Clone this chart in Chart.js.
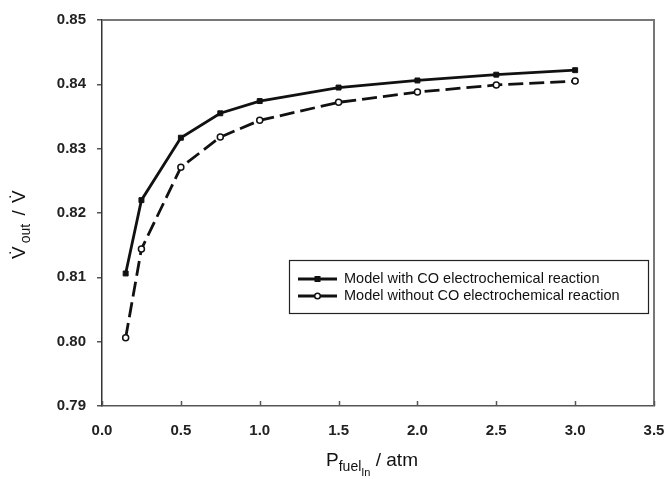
<!DOCTYPE html>
<html>
<head>
<meta charset="utf-8">
<script src="https://cdn.jsdelivr.net/npm/chart.js@4.4.1/dist/chart.umd.min.js"></script>
<style>
  html, body { margin: 0; padding: 0; background: #fff; }
  #wrap { width: 667px; height: 479px; position: relative; }
</style>
</head>
<body>
<div id="wrap"><canvas id="c" width="667" height="479"></canvas></div>
<script>
// Inlet fuel pressure (atm)
const pressure = [0.15, 0.25, 0.5, 0.75, 1.0, 1.5, 2.0, 2.5, 3.0];
// Output voltage (V) for the two model variants
const vWithCO = [0.8106, 0.8220, 0.8317, 0.8355, 0.8374, 0.8395, 0.8406, 0.8415, 0.8422];
const vWithoutCO = [0.8006, 0.8144, 0.8271, 0.8318, 0.8344, 0.8372, 0.8388, 0.8399, 0.8405];
const seriesLabels = ['Model with CO electrochemical reaction', 'Model without CO electrochemical reaction'];
const xTicks = [0, 0.5, 1.0, 1.5, 2.0, 2.5, 3.0, 3.5];

const toPoints = (xs, ys) => xs.map((x, i) => ({ x: x, y: ys[i] }));
const FONT = '"Liberation Sans", Arial, sans-serif';

// Frame, inward x ticks, axis titles and legend box
const decorations = {
  id: 'decorations',
  afterDraw(chart) {
    const ctx = chart.ctx;
    const a = chart.chartArea;
    const xs = chart.scales.x;
    ctx.save();

    // top and right frame
    ctx.strokeStyle = '#777';
    ctx.lineWidth = 2;
    ctx.beginPath();
    ctx.moveTo(a.left, a.top);
    ctx.lineTo(a.right, a.top);
    ctx.lineTo(a.right, a.bottom);
    ctx.stroke();

    // x ticks pointing into the plot
    ctx.strokeStyle = '#555';
    ctx.lineWidth = 1.5;
    xTicks.forEach(v => {
      const px = Math.round(xs.getPixelForValue(v)) + 0.5;
      ctx.beginPath();
      ctx.moveTo(px, a.bottom);
      ctx.lineTo(px, a.bottom - 5);
      ctx.stroke();
    });

    // x axis title: P_fuel_In / atm
    ctx.fillStyle = '#111';
    ctx.textBaseline = 'alphabetic';
    ctx.textAlign = 'left';
    const parts = [
      { t: 'P', f: '19px ' + FONT, dy: 0 },
      { t: 'fuel', f: '14px ' + FONT, dy: 5 },
      { t: 'In', f: '11px ' + FONT, dy: 10 },
      { t: ' / atm', f: '19px ' + FONT, dy: 0 }
    ];
    let total = 0;
    parts.forEach(p => { ctx.font = p.f; p.w = ctx.measureText(p.t).width; total += p.w; });
    let x0 = 372 - total / 2;
    const base = 466;
    parts.forEach(p => { ctx.font = p.f; ctx.fillText(p.t, x0, base + p.dy); x0 += p.w; });

    // y axis title: V̇_out / V̇ (rotated, read bottom to top)
    ctx.save();
    ctx.translate(25, 259);
    ctx.rotate(-Math.PI / 2);
    const yparts = [
      { t: 'V\u0307', f: '19px ' + FONT, dy: 0, gap: 3 },
      { t: 'out', f: '14px ' + FONT, dy: 5, gap: 3 },
      { t: ' / ', f: '19px ' + FONT, dy: 0, gap: 2 },
      { t: 'V\u0307', f: '19px ' + FONT, dy: 0, gap: 0 }
    ];
    let y0 = 0;
    yparts.forEach(p => {
      ctx.font = p.f;
      ctx.fillText(p.t, y0, p.dy);
      y0 += ctx.measureText(p.t).width + p.gap;
    });
    ctx.restore();

    // legend box
    const bx = 289, by = 260, bw = 359, bh = 53;
    ctx.fillStyle = '#fff';
    ctx.fillRect(bx, by, bw, bh);
    ctx.strokeStyle = '#222';
    ctx.lineWidth = 1.2;
    ctx.strokeRect(bx + 0.5, by + 0.5, bw, bh);
    const rows = [279, 296];
    chart.data.datasets.forEach((ds, i) => {
      const ry = rows[i];
      ctx.strokeStyle = ds.borderColor;
      ctx.lineWidth = 2.8;
      ctx.setLineDash([]);
      ctx.beginPath();
      ctx.moveTo(298, ry);
      ctx.lineTo(337, ry);
      ctx.stroke();
      const mx = 317.5;
      if (ds.pointStyle === 'rect') {
        ctx.fillStyle = ds.pointBackgroundColor;
        ctx.fillRect(mx - 3, ry - 3, 6, 6);
      } else {
        ctx.fillStyle = '#fff';
        ctx.lineWidth = 1.5;
        ctx.beginPath();
        ctx.arc(mx, ry, 2.8, 0, Math.PI * 2);
        ctx.fill();
        ctx.stroke();
      }
      ctx.fillStyle = '#111';
      ctx.font = '14.5px ' + FONT;
      ctx.textBaseline = 'middle';
      ctx.fillText(ds.label, 344, ry);
    });

    ctx.restore();
  }
};

new Chart(document.getElementById('c'), {
  type: 'line',
  data: {
    datasets: [
      {
        label: seriesLabels[0],
        data: toPoints(pressure, vWithCO),
        borderColor: '#111',
        borderWidth: 2.8,
        pointStyle: 'rect',
        pointRadius: 3.5,
        pointBackgroundColor: '#111',
        pointBorderColor: '#111',
        pointBorderWidth: 1,
        tension: 0
      },
      {
        label: seriesLabels[1],
        data: toPoints(pressure, vWithoutCO),
        borderColor: '#111',
        borderWidth: 2.8,
        borderDash: [15, 6],
        pointStyle: 'circle',
        pointRadius: 3,
        pointBackgroundColor: '#fff',
        pointBorderColor: '#111',
        pointBorderWidth: 1.5,
        tension: 0
      }
    ]
  },
  options: {
    responsive: false,
    animation: false,
    layout: { padding: { top: 20, right: 13, left: 0, bottom: 0 } },
    plugins: {
      legend: { display: false },
      tooltip: { enabled: false }
    },
    scales: {
      x: {
        type: 'linear',
        min: 0,
        max: 3.5,
        afterBuildTicks(scale) { scale.ticks = xTicks.map(v => ({ value: v })); },
        afterFit(scale) {
          scale.height = 73;
          scale.paddingLeft = 0;
          scale.paddingRight = 0;
        },
        grid: { display: false, drawTicks: false },
        border: { display: true, color: '#555', width: 1.5 },
        ticks: {
          padding: 16,
          color: '#222',
          font: { family: FONT, size: 15, weight: 'bold' },
          maxRotation: 0,
          callback: v => Number(v).toFixed(1)
        }
      },
      y: {
        min: 0.79,
        max: 0.85,
        afterFit(scale) {
          scale.width = 102;
          scale.paddingTop = 0;
          scale.paddingBottom = 0;
        },
        grid: { display: true, drawOnChartArea: false, drawTicks: true, tickLength: 5, color: '#555', lineWidth: 1.5 },
        border: { display: true, color: '#333', width: 1.5 },
        ticks: {
          stepSize: 0.01,
          padding: 11,
          color: '#222',
          font: { family: FONT, size: 15, weight: 'bold' },
          callback: v => Number(v).toFixed(2)
        }
      }
    }
  },
  plugins: [decorations]
});
</script>
</body>
</html>
